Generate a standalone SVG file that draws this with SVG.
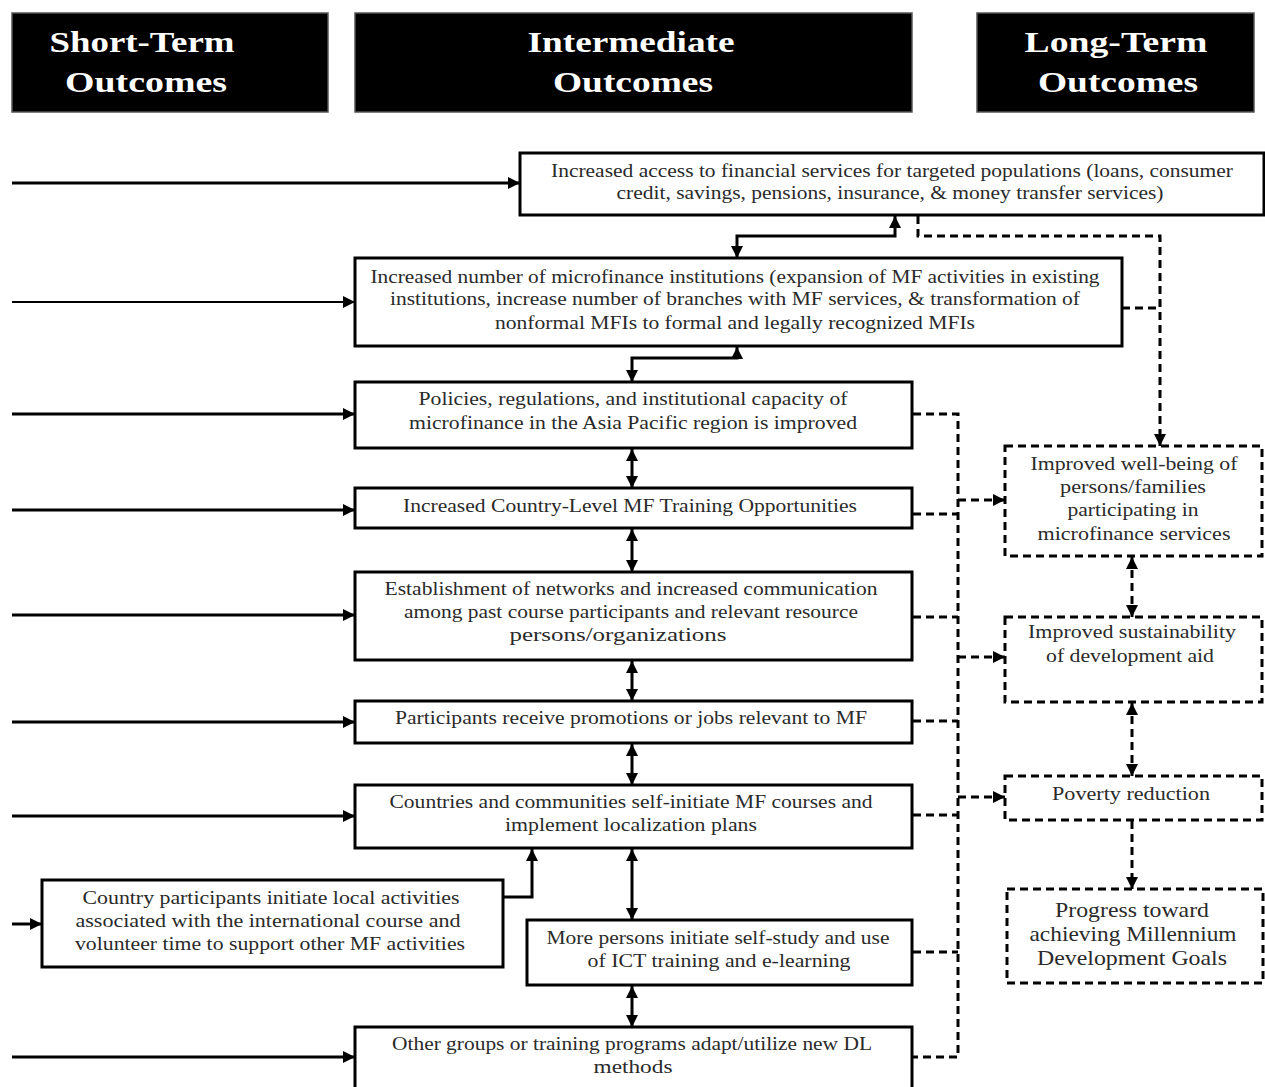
<svg xmlns="http://www.w3.org/2000/svg" width="1265" height="1087" viewBox="0 0 1265 1087">
<defs>
<marker id="ah" viewBox="0 0 10 10" refX="10" refY="5" markerWidth="13" markerHeight="12" markerUnits="userSpaceOnUse" orient="auto-start-reverse">
<path d="M0,0 L10,5 L0,10 z" fill="#000"/>
</marker>
</defs>
<style>
.hdr{fill:#000;stroke:#555;stroke-width:1.5}
.ht{font-family:"Liberation Serif",serif;font-weight:bold;font-size:30px;fill:#fff;text-anchor:middle}
.box{fill:#fff;stroke:#000;stroke-width:3}
.dbox{fill:#fff;stroke:#000;stroke-width:3;stroke-dasharray:8 5}
.t{font-family:"Liberation Serif",serif;font-size:18px;fill:#2a2a2a;text-anchor:middle}
.tb{font-family:"Liberation Serif",serif;font-size:21px;fill:#2a2a2a;text-anchor:middle}
.c{fill:none;stroke:#000;stroke-width:3}
.c2{fill:none;stroke:#000;stroke-width:1.8}
.d{fill:none;stroke:#000;stroke-width:3;stroke-dasharray:8 5}
</style>
<rect width="1265" height="1087" fill="#fff"/>

<g id="hdr-short"><rect class="hdr" x="12" y="13" width="316" height="99"/>
<text class="ht" x="142" y="52" textLength="185" lengthAdjust="spacingAndGlyphs">Short-Term</text>
<text class="ht" x="146" y="92" textLength="162" lengthAdjust="spacingAndGlyphs">Outcomes</text></g>
<g id="hdr-inter"><rect class="hdr" x="355" y="13" width="557" height="99"/>
<text class="ht" x="631" y="52" textLength="207" lengthAdjust="spacingAndGlyphs">Intermediate</text>
<text class="ht" x="633" y="92" textLength="160" lengthAdjust="spacingAndGlyphs">Outcomes</text></g>
<g id="hdr-long"><rect class="hdr" x="977" y="13" width="277" height="99"/>
<text class="ht" x="1116" y="52" textLength="183" lengthAdjust="spacingAndGlyphs">Long-Term</text>
<text class="ht" x="1118" y="92" textLength="160" lengthAdjust="spacingAndGlyphs">Outcomes</text></g>

<g id="connectors">
<path class="c" d="M12,183 H520" marker-end="url(#ah)"/>
<path class="c2" d="M12,302 H355" marker-end="url(#ah)"/>
<path class="c" d="M12,414 H355" marker-end="url(#ah)"/>
<path class="c" d="M12,510 H355" marker-end="url(#ah)"/>
<path class="c" d="M12,615 H355" marker-end="url(#ah)"/>
<path class="c" d="M12,722 H355" marker-end="url(#ah)"/>
<path class="c" d="M12,816 H355" marker-end="url(#ah)"/>
<path class="c" d="M12,924 H42" marker-end="url(#ah)"/>
<path class="c" d="M12,1057 H355" marker-end="url(#ah)"/>
<path class="c" d="M503,897 H532 V849" marker-end="url(#ah)"/>
<path class="c" d="M737,258 V236 H895 V216" marker-start="url(#ah)" marker-end="url(#ah)"/>
<path class="c" d="M632,382 V358 H737 V347" marker-start="url(#ah)" marker-end="url(#ah)"/>
<path class="c" d="M632,449 V488" marker-start="url(#ah)" marker-end="url(#ah)"/>
<path class="c" d="M632,529 V572" marker-start="url(#ah)" marker-end="url(#ah)"/>
<path class="c" d="M632,661 V701" marker-start="url(#ah)" marker-end="url(#ah)"/>
<path class="c" d="M632,744 V785" marker-start="url(#ah)" marker-end="url(#ah)"/>
<path class="c" d="M632,849 V920" marker-start="url(#ah)" marker-end="url(#ah)"/>
<path class="c" d="M632,986 V1027" marker-start="url(#ah)" marker-end="url(#ah)"/>
<path class="d" d="M918,216 V236 H1160 V446" marker-end="url(#ah)"/>
<path class="d" d="M1122,308 H1160"/>
<path class="d" d="M913,414 H958 V1057 H913"/>
<path class="d" d="M913,514 H958"/>
<path class="d" d="M913,617 H958"/>
<path class="d" d="M913,721 H958"/>
<path class="d" d="M913,815 H958"/>
<path class="d" d="M913,952 H958"/>
<path class="d" d="M958,500 H1005" marker-end="url(#ah)"/>
<path class="d" d="M958,657 H1005" marker-end="url(#ah)"/>
<path class="d" d="M958,797 H1005" marker-end="url(#ah)"/>
<path class="d" d="M1132,557 V617" marker-start="url(#ah)" marker-end="url(#ah)"/>
<path class="d" d="M1132,703 V776" marker-start="url(#ah)" marker-end="url(#ah)"/>
<path class="d" d="M1132,821 V889" marker-end="url(#ah)"/>
</g>

<g id="n-access"><rect class="box" x="520" y="153" width="744" height="62"/>
<text class="t" x="892" y="177" textLength="682" lengthAdjust="spacingAndGlyphs">Increased access to financial services for targeted populations (loans, consumer</text>
<text class="t" x="890" y="199" textLength="547" lengthAdjust="spacingAndGlyphs">credit, savings, pensions, insurance, &amp; money transfer services)</text></g>

<g id="n-mfi"><rect class="box" x="355" y="258" width="767" height="88"/>
<text class="t" x="735" y="283" textLength="729" lengthAdjust="spacingAndGlyphs">Increased number of microfinance institutions (expansion of MF activities in existing</text>
<text class="t" x="735" y="305" textLength="690" lengthAdjust="spacingAndGlyphs">institutions, increase number of branches with MF services, &amp; transformation of</text>
<text class="t" x="735" y="329" textLength="480" lengthAdjust="spacingAndGlyphs">nonformal MFIs to formal and legally recognized MFIs</text></g>

<g id="n-policies"><rect class="box" x="355" y="382" width="557" height="66"/>
<text class="t" x="633" y="405" textLength="429" lengthAdjust="spacingAndGlyphs">Policies, regulations, and institutional capacity of</text>
<text class="t" x="633" y="429" textLength="448" lengthAdjust="spacingAndGlyphs">microfinance in the Asia Pacific region is improved</text></g>

<g id="n-training"><rect class="box" x="355" y="488" width="557" height="40"/>
<text class="t" x="630" y="512" textLength="454" lengthAdjust="spacingAndGlyphs">Increased Country-Level MF Training Opportunities</text></g>

<g id="n-networks"><rect class="box" x="355" y="572" width="557" height="88"/>
<text class="t" x="631" y="595" textLength="493" lengthAdjust="spacingAndGlyphs">Establishment of networks and increased communication</text>
<text class="t" x="631" y="618" textLength="454" lengthAdjust="spacingAndGlyphs">among past course participants and relevant resource</text>
<text class="t" x="618" y="641" textLength="217" lengthAdjust="spacingAndGlyphs">persons/organizations</text></g>

<g id="n-promotions"><rect class="box" x="355" y="701" width="557" height="42"/>
<text class="t" x="631" y="724" textLength="472" lengthAdjust="spacingAndGlyphs">Participants receive promotions or jobs relevant to MF</text></g>

<g id="n-countries"><rect class="box" x="355" y="785" width="557" height="63"/>
<text class="t" x="631" y="808" textLength="483" lengthAdjust="spacingAndGlyphs">Countries and communities self-initiate MF courses and</text>
<text class="t" x="631" y="831" textLength="252" lengthAdjust="spacingAndGlyphs">implement localization plans</text></g>

<g id="n-local"><rect class="box" x="42" y="880" width="461" height="87"/>
<text class="t" x="271" y="904" textLength="377" lengthAdjust="spacingAndGlyphs">Country participants initiate local activities</text>
<text class="t" x="268" y="927" textLength="385" lengthAdjust="spacingAndGlyphs">associated with the international course and</text>
<text class="t" x="270" y="950" textLength="390" lengthAdjust="spacingAndGlyphs">volunteer time to support other MF activities</text></g>

<g id="n-selfstudy"><rect class="box" x="527" y="920" width="385" height="65"/>
<text class="t" x="718" y="944" textLength="343" lengthAdjust="spacingAndGlyphs">More persons initiate self-study and use</text>
<text class="t" x="719" y="967" textLength="263" lengthAdjust="spacingAndGlyphs">of ICT training and e-learning</text></g>

<g id="n-dl"><rect class="box" x="355" y="1027" width="557" height="70"/>
<text class="t" x="632" y="1050" textLength="480" lengthAdjust="spacingAndGlyphs">Other groups or training programs adapt/utilize new DL</text>
<text class="t" x="633" y="1073" textLength="79" lengthAdjust="spacingAndGlyphs">methods</text></g>

<g id="n-wellbeing"><rect class="dbox" x="1005" y="446" width="257" height="110"/>
<text class="t" x="1134" y="470" textLength="207" lengthAdjust="spacingAndGlyphs">Improved well-being of</text>
<text class="t" x="1133" y="493" textLength="146" lengthAdjust="spacingAndGlyphs">persons/families</text>
<text class="t" x="1133" y="516" textLength="131" lengthAdjust="spacingAndGlyphs">participating in</text>
<text class="t" x="1134" y="540" textLength="193" lengthAdjust="spacingAndGlyphs">microfinance services</text></g>

<g id="n-sustain"><rect class="dbox" x="1005" y="617" width="257" height="85"/>
<text class="t" x="1132" y="638" textLength="208" lengthAdjust="spacingAndGlyphs">Improved sustainability</text>
<text class="t" x="1130" y="662" textLength="168" lengthAdjust="spacingAndGlyphs">of development aid</text></g>

<g id="n-poverty"><rect class="dbox" x="1005" y="776" width="257" height="44"/>
<text class="t" x="1131" y="800" textLength="158" lengthAdjust="spacingAndGlyphs">Poverty reduction</text></g>

<g id="n-mdg"><rect class="dbox" x="1007" y="889" width="256" height="94"/>
<text class="tb" x="1132" y="917" textLength="154" lengthAdjust="spacingAndGlyphs">Progress toward</text>
<text class="tb" x="1133" y="941" textLength="207" lengthAdjust="spacingAndGlyphs">achieving Millennium</text>
<text class="tb" x="1132" y="965" textLength="190" lengthAdjust="spacingAndGlyphs">Development Goals</text></g>
</svg>
